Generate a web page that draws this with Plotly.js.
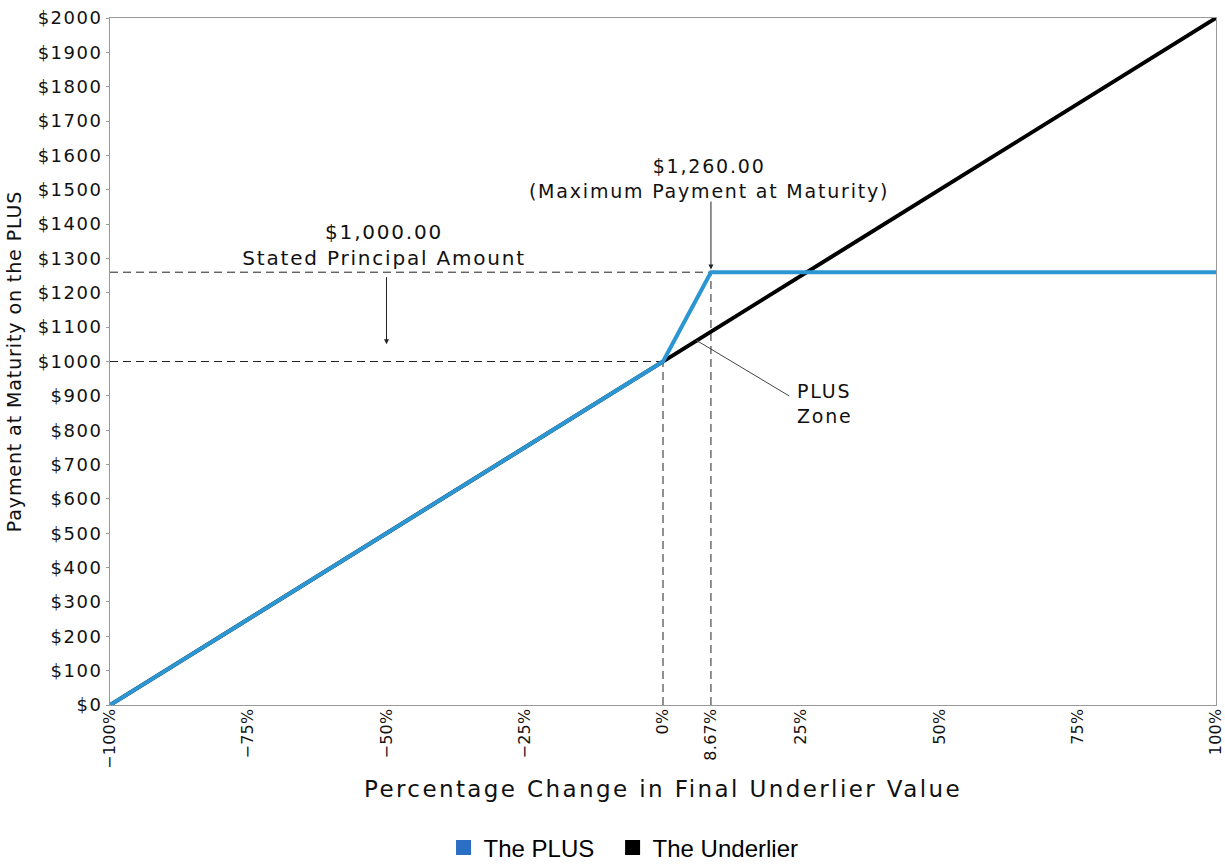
<!DOCTYPE html>
<html>
<head>
<meta charset="utf-8">
<script src="https://cdn.plot.ly/plotly-3.0.1.min.js"></script>
<style>
html,body{margin:0;padding:0;background:#fff;}
#chart{width:1225px;height:867px;}
#chart .ytick text{letter-spacing:1.5px;}
#chart .xtick text{letter-spacing:0.3px;}
#chart .annotation-text{letter-spacing:1.8px;}
#chart .g-xtitle text{letter-spacing:2.4px;}
#chart .g-ytitle text{letter-spacing:0.9px;}
</style>
</head>
<body>
<div id="chart"></div>
<script>
// Data
const plusX = [-100, 0, 8.67, 100];
const plusY = [0, 1000, 1260, 1260];
const underX = [-100, 100];
const underY = [0, 2000];
const principal = 1000;
const capValue = 1260;
const capX = 8.67;
const tickVals = [-100, -75, -50, -25, 0, 8.67, 25, 50, 75, 100];
const tickText = ['\u2212100%', '\u221275%', '\u221250%', '\u221225%', '0%', '8.67%', '25%', '50%', '75%', '100%'];
const legendNames = ['The PLUS\u00a0\u00a0', 'The Underlier'];

const dash = {color: '#222', width: 1, dash: '8px,5px'};
const traces = [
  {x: [-100, 0], y: [principal, principal], mode: 'lines', line: dash, showlegend: false, hoverinfo: 'skip'},
  {x: [-100, capX], y: [capValue, capValue], mode: 'lines', line: dash, showlegend: false, hoverinfo: 'skip'},
  {x: [0, 0], y: [0, principal], mode: 'lines', line: dash, showlegend: false, hoverinfo: 'skip'},
  {x: [capX, capX], y: [0, capValue], mode: 'lines', line: dash, showlegend: false, hoverinfo: 'skip'},
  {x: underX, y: underY, mode: 'lines', line: {color: '#000', width: 4}, showlegend: false},
  {x: plusX, y: plusY, mode: 'lines', line: {color: '#2b96d2', width: 4}, showlegend: false},
  {x: [null], y: [null], mode: 'markers', name: legendNames[0], marker: {symbol: 'square', size: 15, color: '#2a6fc4'}},
  {x: [null], y: [null], mode: 'markers', name: legendNames[1], marker: {symbol: 'square', size: 15, color: '#000'}}
];

const annFont = {family: 'DejaVu Sans', size: 19, color: '#111'};
const layout = {
  width: 1225, height: 867,
  margin: {l: 110, r: 9, t: 18, b: 162},
  paper_bgcolor: '#fff', plot_bgcolor: '#fff',
  font: {family: 'DejaVu Sans', color: '#111'},
  showlegend: true,
  legend: {orientation: 'h', x: 0.509, xref: 'container', xanchor: 'center', y: 0.022, yref: 'container', yanchor: 'middle',
           font: {family: 'Liberation Sans', size: 24, color: '#000'}, itemwidth: 30, tracegroupgap: 0},
  xaxis: {
    range: [-100, 100], tickmode: 'array', tickvals: tickVals, ticktext: tickText,
    tickangle: -90, tickfont: {family: 'DejaVu Sans', size: 16, color: '#111'}, ticklabeloverflow: 'allow',
    ticklabelstandoff: -4,
    showgrid: false, zeroline: false, showline: true, mirror: true, linecolor: '#999', linewidth: 1,
    ticks: '', ticklen: 0, automargin: false,
    title: {text: 'Percentage Change in Final Underlier Value', font: {family: 'DejaVu Sans', size: 23, color: '#111'}, standoff: 14}
  },
  yaxis: {
    range: [0, 2000], dtick: 100, tickprefix: '$', tickformat: 'd',
    tickfont: {family: 'DejaVu Sans', size: 18, color: '#111'},
    showgrid: false, zeroline: false, showline: true, mirror: true, linecolor: '#999', linewidth: 1,
    ticks: 'outside', ticklen: 3, tickcolor: '#999', automargin: false,
    title: {text: 'Payment at Maturity on the PLUS', font: {family: 'DejaVu Sans', size: 19, color: '#111'}, standoff: 18}
  },
  annotations: [
    {x: -50.4, y: 1339, xref: 'x', yref: 'y', text: '$1,000.00<br>Stated Principal Amount', showarrow: false, font: {family: 'DejaVu Sans', size: 20, color: '#111'}, align: 'center'},
    {x: -50, y: 1050, ax: -50, ay: 1250, xref: 'x', yref: 'y', axref: 'x', ayref: 'y', text: '', showarrow: true, arrowhead: 2, arrowsize: 1, arrowwidth: 1, arrowcolor: '#222'},
    {x: 8.3, y: 1534, xref: 'x', yref: 'y', text: '$1,260.00<br>(Maximum Payment at Maturity)', showarrow: false, font: annFont, align: 'center'},
    {x: capX, y: 1268, ax: capX, ay: 1470, xref: 'x', yref: 'y', axref: 'x', ayref: 'y', text: '', showarrow: true, arrowhead: 2, arrowsize: 1, arrowwidth: 1, arrowcolor: '#222'},
    {x: 6, y: 1062, ax: 23.1, ay: 897, xref: 'x', yref: 'y', axref: 'x', ayref: 'y', text: '', showarrow: true, arrowhead: 2, arrowsize: 0.6, arrowwidth: 1, arrowcolor: '#444'},
    {x: 23.9, y: 877, xref: 'x', yref: 'y', text: 'PLUS<br>Zone', showarrow: false, font: annFont, align: 'left', xanchor: 'left'}
  ]
};
Plotly.newPlot('chart', traces, layout, {displayModeBar: false, staticPlot: true});
</script>
</body>
</html>
